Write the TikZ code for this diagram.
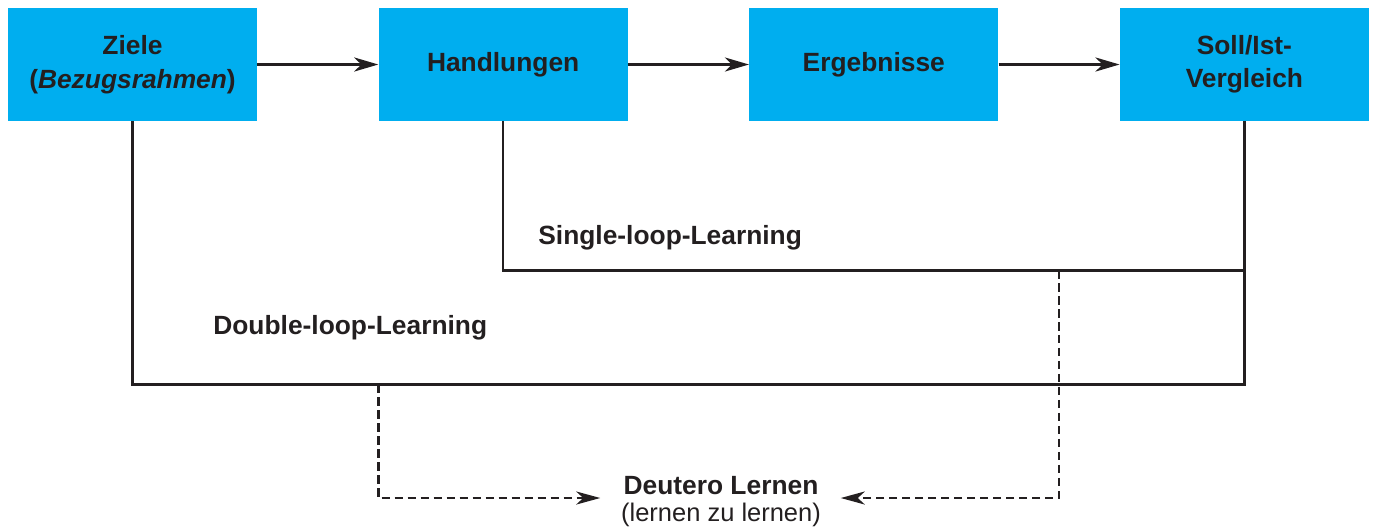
\documentclass[tikz,border=0pt]{standalone}
\usepackage{fontspec}
\setmainfont{Liberation Sans}
\usepackage{xcolor}
\usetikzlibrary{arrows.meta, positioning, calc}

\definecolor{boxblue}{HTML}{00AEEF}
\definecolor{inkgray}{HTML}{231F20}

\begin{document}
\begin{tikzpicture}[
        x=0.02cm, y=-0.02cm,
        node distance = 2.42cm,
        box/.style = {
            rectangle,
            fill=boxblue,
            minimum width=4.98cm,
            minimum height=2.26cm,
            inner sep=0pt,
            align=center,
            font=\fontsize{15}{19}\selectfont\bfseries,
            text=inkgray
        },
        arrow/.style = {
            -{Stealth[length=4.8mm, width=2.8mm, inset=1.4mm]},
            line width=1.7pt,
            draw=inkgray
        },
        loopline/.style = {
            line width=1.5pt,
            draw=inkgray
        },
        dasharrow/.style = {
            -{Stealth[length=4.8mm, width=2.6mm, inset=1.4mm]},
            line width=1.5pt,
            draw=inkgray,
            dash pattern=on 0.17cm off 0.09cm
        },
        label/.style = {
            font=\fontsize{15}{19}\selectfont\bfseries,
            text=inkgray,
            inner sep=0pt
        }
    ]

    \useasboundingbox (0,0) rectangle (1375,529);

    % Nodes
    \node[box] (ziele) at (132.5,64.5) {Ziele\\(\textit{Bezugsrahmen})};
    \node[box, right=of ziele] (handl) {Handlungen};
    \node[box, right=of handl] (ergeb) {Ergebnisse};
    \node[box, right=of ergeb] (soll) {Soll/Ist-\\Vergleich};

    % Arrows
    \draw[arrow] (ziele) -- (handl);
    \draw[arrow] (handl) -- (ergeb);
    \draw[arrow] (ergeb) -- (soll);

    % Loops
    \draw[loopline] (handl.south) -- ++(0,149) coordinate (single) -| (soll.south);
    \draw[loopline] (ziele.south) -- ++(0,263) coordinate (double) -| (soll.south);

    \node[label, anchor=west] at (538,238) {Single-loop-Learning};
    \node[label, anchor=west] at (213,328) {Double-loop-Learning};

    % Deutero learning
    \node[label] (deutero) at (721,486) {Deutero Lernen};
    \node[label, below=4pt of deutero, font=\fontsize{14.5}{18}\selectfont] (deutsub) {(lernen zu lernen)};

    \coordinate (dl) at (handl.west |- double);
    \coordinate (sl) at (1059,270);
    \draw[dasharrow] (dl) |- ($(deutero.west)+(-23,12)$);
    \draw[dasharrow] (sl) |- ($(deutero.east)+(22,12)$);

\end{tikzpicture}
\end{document}
